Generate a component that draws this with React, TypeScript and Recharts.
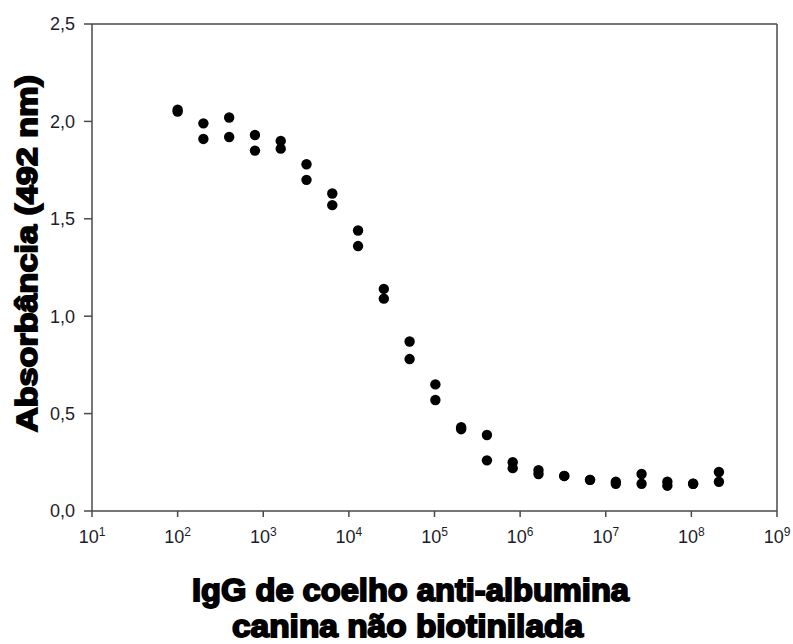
import React from "react";
import {
  ScatterChart,
  Scatter,
  XAxis,
  YAxis,
  ReferenceLine,
  Label,
} from "recharts";

// Dilution of the antibody (reciprocal), doubling steps
const dilutions = [
  100, 200, 400, 800, 1600, 3200, 6400, 12800, 25600, 51200, 102400, 204800,
  409600, 819200, 1638400, 3276800, 6553600, 13107200, 26214400, 52428800,
  104857600, 209715200,
];

// Absorbance at 492 nm, two replicates
const replicateA = [
  2.06, 1.99, 2.02, 1.93, 1.9, 1.78, 1.63, 1.44, 1.14, 0.87, 0.65, 0.43, 0.39,
  0.25, 0.21, 0.18, 0.16, 0.15, 0.19, 0.15, 0.14, 0.2,
];
const replicateB = [
  2.05, 1.91, 1.92, 1.85, 1.86, 1.7, 1.57, 1.36, 1.09, 0.78, 0.57, 0.42, 0.26,
  0.22, 0.19, 0.18, 0.16, 0.14, 0.14, 0.13, 0.14, 0.15,
];

const xTicks = [1e1, 1e2, 1e3, 1e4, 1e5, 1e6, 1e7, 1e8, 1e9];
const yTicks = [0, 0.5, 1, 1.5, 2, 2.5];

const points = [
  ...dilutions.map((d, i) => ({ x: d, y: replicateA[i] })),
  ...dilutions.map((d, i) => ({ x: d, y: replicateB[i] })),
];

const AXIS = "#4a4a4a";
const TICK_TEXT = "#1c1c2a";
const TITLE_FONT = "'Liberation Sans', Arial, sans-serif";
const TICK_FONT = "'Liberation Sans', Arial, sans-serif";

const PowerTick = (props: any) => {
  const { x, y, payload } = props;
  const exp = Math.round(Math.log10(payload.value));
  return (
    <text
      x={x}
      y={y}
      dy="0.71em"
      textAnchor="middle"
      fill={TICK_TEXT}
      style={{ fontFamily: TICK_FONT, fontSize: 18 }}
    >
      <tspan>10</tspan>
      <tspan dy={-7} style={{ fontSize: 12 }}>
        {exp}
      </tspan>
    </text>
  );
};

const CommaTick = (props: any) => {
  const { x, y, payload } = props;
  return (
    <text
      x={x}
      y={y}
      dy="0.355em"
      textAnchor="end"
      fill={TICK_TEXT}
      style={{ fontFamily: TICK_FONT, fontSize: 18 }}
    >
      {payload.value.toFixed(1).replace(".", ",")}
    </text>
  );
};

const Dot = (props: any) => {
  const { cx, cy } = props;
  return <circle cx={cx} cy={cy} r={5.2} fill="#000" />;
};

const XTitle = (props: any) => {
  const { viewBox } = props;
  const cx = viewBox.x + viewBox.width / 2 - 24;
  const common = {
    textAnchor: "middle" as const,
    fontFamily: TITLE_FONT,
    fontWeight: 700,
    fontSize: 31,
    fill: "#000",
    stroke: "#000",
    strokeWidth: 1.8,
    lengthAdjust: "spacingAndGlyphs" as const,
  };
  return (
    <g>
      <text {...common} x={cx} y={viewBox.y + 90} textLength={437}>
        IgG de coelho anti-albumina
      </text>
      <text {...common} x={cx - 3} y={viewBox.y + 126} textLength={351}>
        canina não biotinilada
      </text>
    </g>
  );
};

const YTitle = (props: any) => {
  const { viewBox } = props;
  const cx = viewBox.x + 26;
  const cy = viewBox.y + viewBox.height / 2 - 14;
  return (
    <text
      x={cx}
      y={cy}
      transform={`rotate(-90, ${cx}, ${cy})`}
      textAnchor="middle"
      dominantBaseline="central"
      fontFamily={TITLE_FONT}
      fontWeight={700}
      fontSize={30}
      fill="#000"
      stroke="#000"
      strokeWidth={1.8}
      textLength={357}
      lengthAdjust="spacingAndGlyphs"
    >
      Absorbância (492 nm)
    </text>
  );
};

export default function App() {
  return (
    <div
      style={{
        position: "absolute",
        left: 0,
        top: 0,
        width: 793,
        height: 644,
        background: "#fff",
      }}
    >
      <ScatterChart
        width={793}
        height={644}
        margin={{ top: 24, right: 16, bottom: 0, left: 0 }}
      >
        <XAxis
          dataKey="x"
          type="number"
          scale="log"
          domain={[1e1, 1e9]}
          ticks={xTicks}
          allowDataOverflow
          height={133}
          stroke={AXIS}
          strokeWidth={1.5}
          tickSize={6}
          tickMargin={13}
          tick={<PowerTick />}
          interval={0}
        >
          <Label content={<XTitle />} />
        </XAxis>
        <YAxis
          dataKey="y"
          type="number"
          domain={[0, 2.5]}
          ticks={yTicks}
          width={92}
          stroke={AXIS}
          strokeWidth={1.5}
          tickSize={8}
          tickMargin={9}
          tick={<CommaTick />}
          interval={0}
        >
          <Label content={<YTitle />} />
        </YAxis>
        <ReferenceLine y={2.5} stroke={AXIS} strokeWidth={1.5} />
        <ReferenceLine x={1e9} stroke={AXIS} strokeWidth={1.5} />
        <Scatter data={points} shape={<Dot />} isAnimationActive={false} />
      </ScatterChart>
    </div>
  );
}
